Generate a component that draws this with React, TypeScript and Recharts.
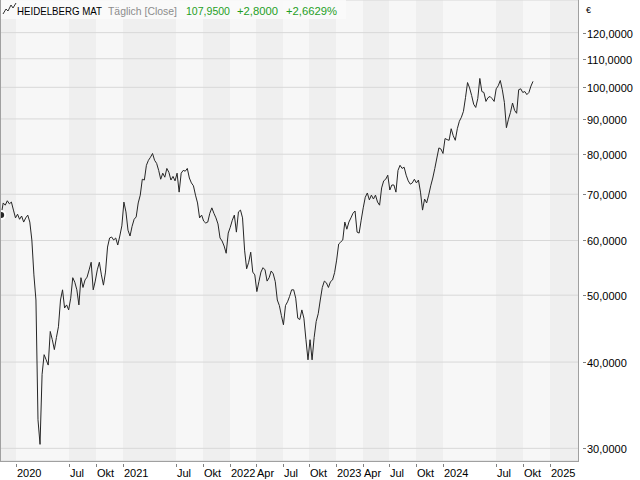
import React from 'react';
import { LineChart, Line, XAxis, YAxis, CartesianGrid } from 'recharts';

const DAY = 86400000;
const FONT = '"Liberation Sans", Arial, sans-serif';

// weekly closes, first one on 2019-11-11
const startDate = Date.UTC(2019, 10, 11);
const closes = [
  65.3, 68.0, 67.5, 68.5, 67.8, 68.2, 66.4, 64.7, 65.5, 64.4,
  65.1, 63.8, 64.7, 65.3, 63.8, 60.1, 53.5, 49.2, 33.0, 30.4,
  38.4, 41.0, 40.3, 39.6, 44.3, 43.1, 41.7, 43.4, 45.0, 49.2,
  50.9, 47.9, 48.4, 47.6, 49.5, 53.0, 52.2, 50.9, 48.4, 53.0,
  51.3, 52.6, 53.1, 54.4, 55.8, 50.9, 52.4, 54.4, 55.8, 53.5,
  51.7, 54.0, 58.7, 60.5, 60.7, 60.1, 60.5, 59.1, 60.9, 63.0,
  68.2, 66.0, 62.1, 60.9, 62.9, 64.4, 64.9, 68.0, 69.8, 73.6,
  73.4, 77.1, 78.4, 79.2, 80.2, 78.4, 77.6, 75.8, 73.6, 75.1,
  74.1, 76.3, 75.3, 73.4, 74.3, 73.2, 75.1, 70.5, 75.1, 75.8,
  75.6, 76.3, 73.9, 72.7, 72.0, 69.8, 68.0, 64.7, 65.3, 64.0,
  63.6, 63.8, 65.7, 66.9, 65.7, 64.7, 63.4, 60.5, 59.9, 58.9,
  57.5, 61.5, 62.7, 64.2, 65.3, 61.7, 66.0, 66.4, 64.7, 58.1,
  54.6, 55.8, 57.7, 54.0, 53.5, 50.6, 52.3, 54.0, 54.8, 54.4,
  52.4, 53.0, 54.2, 53.7, 52.3, 49.2, 48.3, 46.7, 45.3, 48.3,
  48.9, 49.8, 50.9, 50.9, 49.5, 46.3, 46.1, 47.6, 46.3, 43.1,
  40.3, 43.1, 40.3, 43.4, 45.8, 47.0, 49.2, 51.3, 52.4, 52.1,
  51.3, 52.3, 52.6, 53.9, 56.2, 59.3, 59.7, 60.1, 63.8, 62.3,
  63.8, 64.7, 65.7, 66.2, 61.7, 61.5, 64.2, 66.9, 69.3, 70.3,
  68.7, 69.8, 68.9, 69.8, 68.2, 67.5, 71.5, 73.2, 73.6, 74.6,
  71.0, 72.2, 72.2, 70.5, 75.8, 77.1, 76.3, 76.6, 74.6, 73.2,
  72.4, 72.7, 73.6, 72.7, 73.4, 70.5, 66.4, 68.9, 68.0, 69.8,
  72.0, 73.9, 76.3, 79.0, 81.7, 81.4, 80.2, 84.3, 84.0, 83.8,
  87.1, 85.1, 83.8, 87.1, 89.3, 90.5, 92.3, 96.6, 101.6, 99.8,
  97.3, 94.5, 93.5, 96.3, 103.0, 98.6, 98.3, 95.4, 96.6, 97.0,
  96.3, 95.4, 99.5, 100.5, 102.3, 99.2, 95.1, 87.4, 89.9, 92.0,
  94.9, 92.6, 91.7, 99.2, 99.5, 98.3, 98.6, 97.6, 98.3, 100.4,
  102.0,
];

const yTicks = [30, 40, 50, 60, 70, 80, 90, 100, 110, 120];
const xTickDates = [
  '2020-01-01', '2020-07-01', '2020-10-01',
  '2021-01-01', '2021-07-01', '2021-10-01',
  '2022-01-01', '2022-04-01', '2022-07-01', '2022-10-01',
  '2023-01-01', '2023-04-01', '2023-07-01', '2023-10-01',
  '2024-01-01', '2024-07-01', '2024-10-01',
  '2025-01-01',
];
const monthLabels: Record<number, string> = { 3: 'Apr', 6: 'Jul', 9: 'Okt' };

const data = closes.map((v, i) => ({ t: startDate + i * 7 * DAY, v }));
const xTicks = xTickDates.map((d) => Date.parse(d));
const xDomain = [Date.UTC(2019, 10, 7), Date.UTC(2025, 3, 7)];

const XTick = ({ x, y, payload }: any) => {
  const d = new Date(payload.value);
  const m = d.getUTCMonth();
  const label = m === 0 ? String(d.getUTCFullYear()) : monthLabels[m];
  const px = Math.round(x) + 0.5;
  return (
    <g>
      <line x1={px} x2={px} y1={y + 3} y2={y + 6} stroke="#808080" />
      <text x={px + 0.5} y={y + 16} fontSize={11} fontFamily={FONT} fill="#000">{label}</text>
    </g>
  );
};

const YTick = ({ x, y, payload }: any) => {
  const py = Math.round(y) + 0.5;
  return (
    <g>
      <line x1={x + 5} x2={x + 8} y1={py} y2={py} stroke="#808080" />
      <text x={x + 9} y={py + 4} fontSize={11} fontFamily={FONT} fill="#000">
        {payload.value.toFixed(4).replace('.', ',')}
      </text>
    </g>
  );
};

export default function App() {
  return (
    <div style={{ position: 'relative', width: 640, height: 480, background: '#fff' }}>
      <style>{'body{margin:0}'}</style>
      <LineChart width={640} height={480} data={data} margin={{ top: 0, right: 0, bottom: 0, left: 0 }}>
        <CartesianGrid horizontal={false} vertical stroke="none" verticalFill={['#efefef', '#f7f7f7']} />
        <CartesianGrid vertical={false} stroke="#d8d8d8" />
        <XAxis
          dataKey="t"
          type="number"
          domain={xDomain}
          allowDataOverflow
          ticks={xTicks}
          interval={0}
          height={19}
          tickSize={0}
          tickMargin={0}
          tickLine={false}
          axisLine={false}
          tick={<XTick />}
        />
        <YAxis
          orientation="right"
          type="number"
          scale="log"
          domain={[28.76, 133.8]}
          allowDataOverflow
          ticks={yTicks}
          interval={0}
          width={62}
          tickSize={0}
          tickMargin={0}
          tickLine={false}
          axisLine={false}
          tick={<YTick />}
        />
        <Line type="linear" dataKey="v" stroke="#262626" strokeWidth={1} dot={false} isAnimationActive={false} />
      </LineChart>
      <svg width={640} height={480} style={{ position: 'absolute', left: 0, top: 0, pointerEvents: 'none' }}>
        <line x1={0.5} x2={0.5} y1={0} y2={462} stroke="#a0a0a0" />
        <line x1={578.5} x2={578.5} y1={0} y2={462} stroke="#a0a0a0" />
        <line x1={0} x2={579} y1={461.5} y2={461.5} stroke="#a0a0a0" />
        <rect x={1} y={0} width={345} height={19} fill="#fafafa" fillOpacity={0.9} />
        <polyline points="3,14 6,9 8,11 11,5 13,8 16,3" fill="none" stroke="#333" strokeWidth={1} />
        <g fontFamily={FONT} fontSize={11}>
          <text x={17} y={15} fill="#000" textLength={85} lengthAdjust="spacingAndGlyphs">HEIDELBERG MAT</text>
          <text x={108} y={15} fill="#8c8c8c" textLength={69} lengthAdjust="spacingAndGlyphs">Täglich [Close]</text>
          <text x={186} y={15} fill="#1f9f1f" textLength={44} lengthAdjust="spacingAndGlyphs">107,9500</text>
          <text x={237} y={15} fill="#1f9f1f" textLength={41} lengthAdjust="spacingAndGlyphs">+2,8000</text>
          <text x={286} y={15} fill="#1f9f1f" textLength={51} lengthAdjust="spacingAndGlyphs">+2,6629%</text>
          <text x={586} y={13} fill="#000" fontSize={9}>€</text>
        </g>
      </svg>
    </div>
  );
}
